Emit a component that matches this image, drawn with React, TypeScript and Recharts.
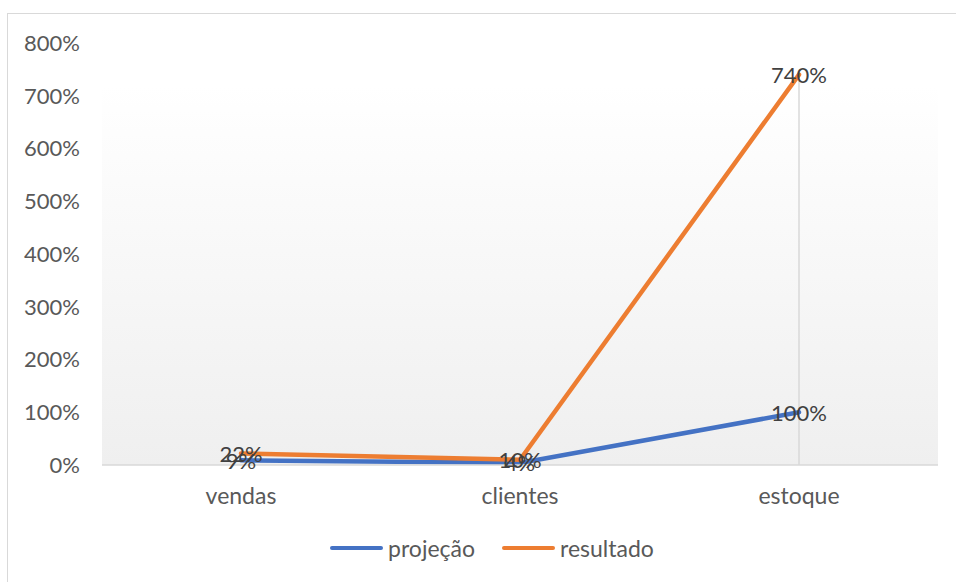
import { LineChart, Line, XAxis, YAxis, CartesianGrid, LabelList, Legend, ReferenceLine } from "recharts"

const categories = ["vendas", "clientes", "estoque"]
const projecao = [9, 4, 100]
const resultado = [22, 10, 740]
const yTicks = [0, 100, 200, 300, 400, 500, 600, 700, 800]

const data = categories.map((c, i) => ({ cat: c, projecao: projecao[i], resultado: resultado[i] }))

const FONT = "Lato, 'Open Sans', sans-serif"

const renderLabel = (props: any) => {
  const { x, y, value } = props
  return (
    <text x={x} y={y} textAnchor="middle" dominantBaseline="central" fill="#404040" fontSize={22} fontFamily={FONT}>
      {value}%
    </text>
  )
}

const legendItems = [
  { name: "projeção", color: "#4472C4" },
  { name: "resultado", color: "#ED7D31" },
]

const renderLegend = () => (
  <div style={{ display: "flex", justifyContent: "center", gap: 27, paddingLeft: 28, fontFamily: FONT, fontSize: 23, color: "#595959" }}>
    {legendItems.map((it) => (
      <div key={it.name} style={{ display: "flex", alignItems: "center", gap: 5 }}>
        <span style={{ display: "inline-block", width: 53, height: 4, borderRadius: 2, background: it.color }} />
        <span>{it.name}</span>
      </div>
    ))}
  </div>
)

export default function App() {
  return (
    <div style={{ position: "fixed", left: 0, top: 0, width: 956, height: 582, overflow: "hidden", background: "#fff" }}>
      <div style={{ position: "absolute", left: 7, top: 13, width: 1000, height: 700, border: "1px solid #d9d9d9" }} />
      <div style={{ position: "absolute", left: 0, top: 0 }}>
        <LineChart width={956} height={582} data={data} margin={{ top: 43, right: 18, bottom: 59, left: 10 }}>
          <defs>
            <linearGradient id="plotBg" x1="0" y1="0" x2="0" y2="1">
              <stop offset="10%" stopColor="#ffffff" />
              <stop offset="100%" stopColor="#efefef" />
            </linearGradient>
          </defs>
          <CartesianGrid horizontal={false} vertical={false} fill="url(#plotBg)" />
          <XAxis
            dataKey="cat"
            stroke="#d9d9d9"
            strokeWidth={1.5}
            tickLine={false}
            tickMargin={17}
            padding={{ left: 139, right: 139 }}
            tick={{ fill: "#595959", fontSize: 23, fontFamily: FONT }}
          />
          <YAxis
            width={92}
            domain={[0, 800]}
            ticks={yTicks}
            axisLine={false}
            tickLine={false}
            tickMargin={16}
            tickFormatter={(v: number) => `${v}%`}
            tick={{ fill: "#595959", fontSize: 22, fontFamily: FONT }}
          />
          <ReferenceLine
            segment={[{ x: "estoque", y: 0 }, { x: "estoque", y: 740 }]}
            stroke="#d9d9d9"
            strokeWidth={1.5}
          />
          <Line type="linear" dataKey="projecao" name="projeção" stroke="#4472C4" strokeWidth={4.5} dot={false} strokeLinecap="round" isAnimationActive={false}>
            <LabelList dataKey="projecao" content={renderLabel} />
          </Line>
          <Line type="linear" dataKey="resultado" name="resultado" stroke="#ED7D31" strokeWidth={4.5} dot={false} strokeLinecap="round" isAnimationActive={false}>
            <LabelList dataKey="resultado" content={renderLabel} />
          </Line>
          <Legend content={renderLegend} wrapperStyle={{ top: 534, left: 0, width: 956 }} />
        </LineChart>
      </div>
    </div>
  )
}
